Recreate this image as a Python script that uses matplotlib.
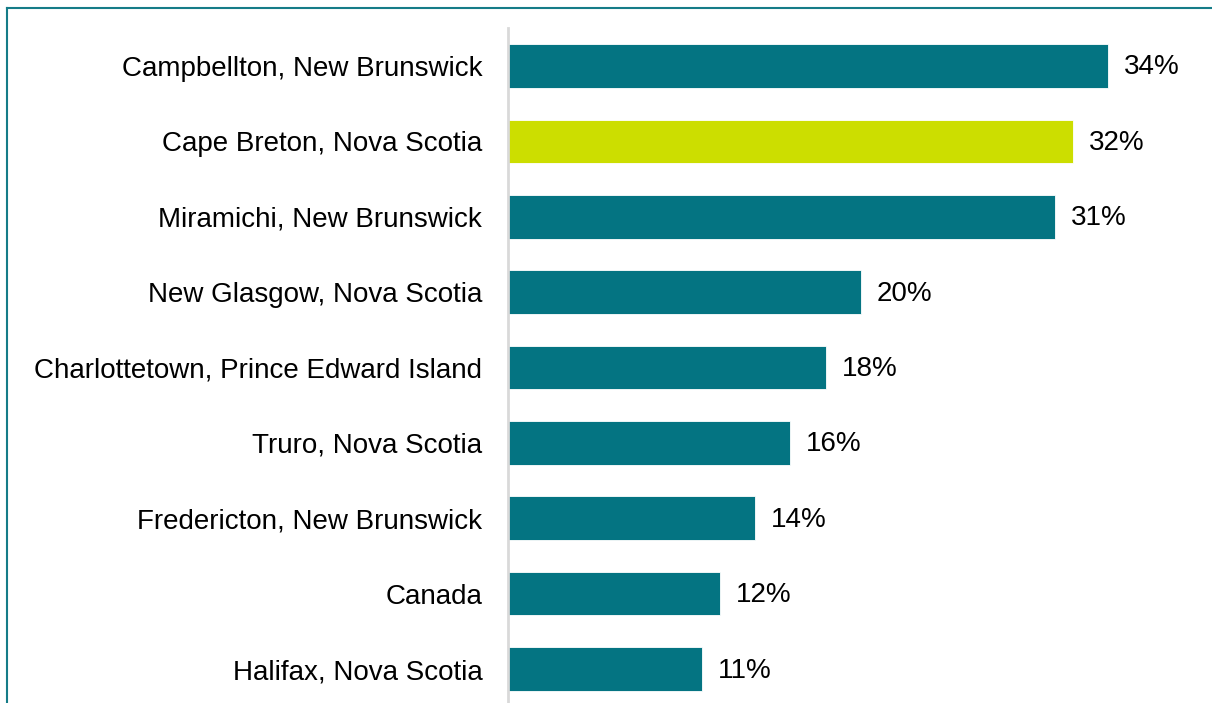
import matplotlib
matplotlib.use("Agg")
import matplotlib.pyplot as plt
from matplotlib.lines import Line2D

plt.rcParams['font.family'] = ['Liberation Sans', 'DejaVu Sans']

regions = [
    "Campbellton, New Brunswick",
    "Cape Breton, Nova Scotia",
    "Miramichi, New Brunswick",
    "New Glasgow, Nova Scotia",
    "Charlottetown, Prince Edward Island",
    "Truro, Nova Scotia",
    "Fredericton, New Brunswick",
    "Canada",
    "Halifax, Nova Scotia",
]
shares = [34, 32, 31, 20, 18, 16, 14, 12, 11]
highlight = "Cape Breton, Nova Scotia"

teal = "#047482"
lime = "#CCDE00"

W, H = 1212, 703
fig = plt.figure(figsize=(W / 100, H / 100), dpi=100)

ax_left, ax_right = 508 / W, 1.0
ax_top = 1 - 28.3 / H
ax_bottom = 1 - 706.7 / H
ax = fig.add_axes([ax_left, ax_bottom, ax_right - ax_left, ax_top - ax_bottom])

ypos = list(range(len(regions)))
colors = [lime if r == highlight else teal for r in regions]
ax.barh(ypos, shares, height=0.58, color=colors, edgecolor="white", linewidth=0.6)

ax.set_ylim(len(regions) - 0.5, -0.5)
ax.set_xlim(0, (W - 508) / 17.65)

for y, v in zip(ypos, shares):
    ax.text(v + 0.9, y + 0.02, f"{v}%", va="center", ha="left", fontsize=20, color="black")

ax.set_yticks(ypos)
ax.set_yticklabels(regions, fontsize=20)
ax.tick_params(axis="y", length=0, pad=18.5)
ax.set_xticks([])
for s in ["top", "right", "bottom"]:
    ax.spines[s].set_visible(False)
ax.spines["left"].set_color("#D9D9D9")
ax.spines["left"].set_linewidth(2)

# outer frame: top and left rules
frame = "#157C88"
fig.add_artist(Line2D([7 / W, 1.0], [1 - 8 / H, 1 - 8 / H], transform=fig.transFigure,
                      color=frame, linewidth=1.5))
fig.add_artist(Line2D([7 / W, 7 / W], [1 - 8 / H, 0], transform=fig.transFigure,
                      color=frame, linewidth=1.5))

fig.savefig("out.png", dpi=100, facecolor="white")
